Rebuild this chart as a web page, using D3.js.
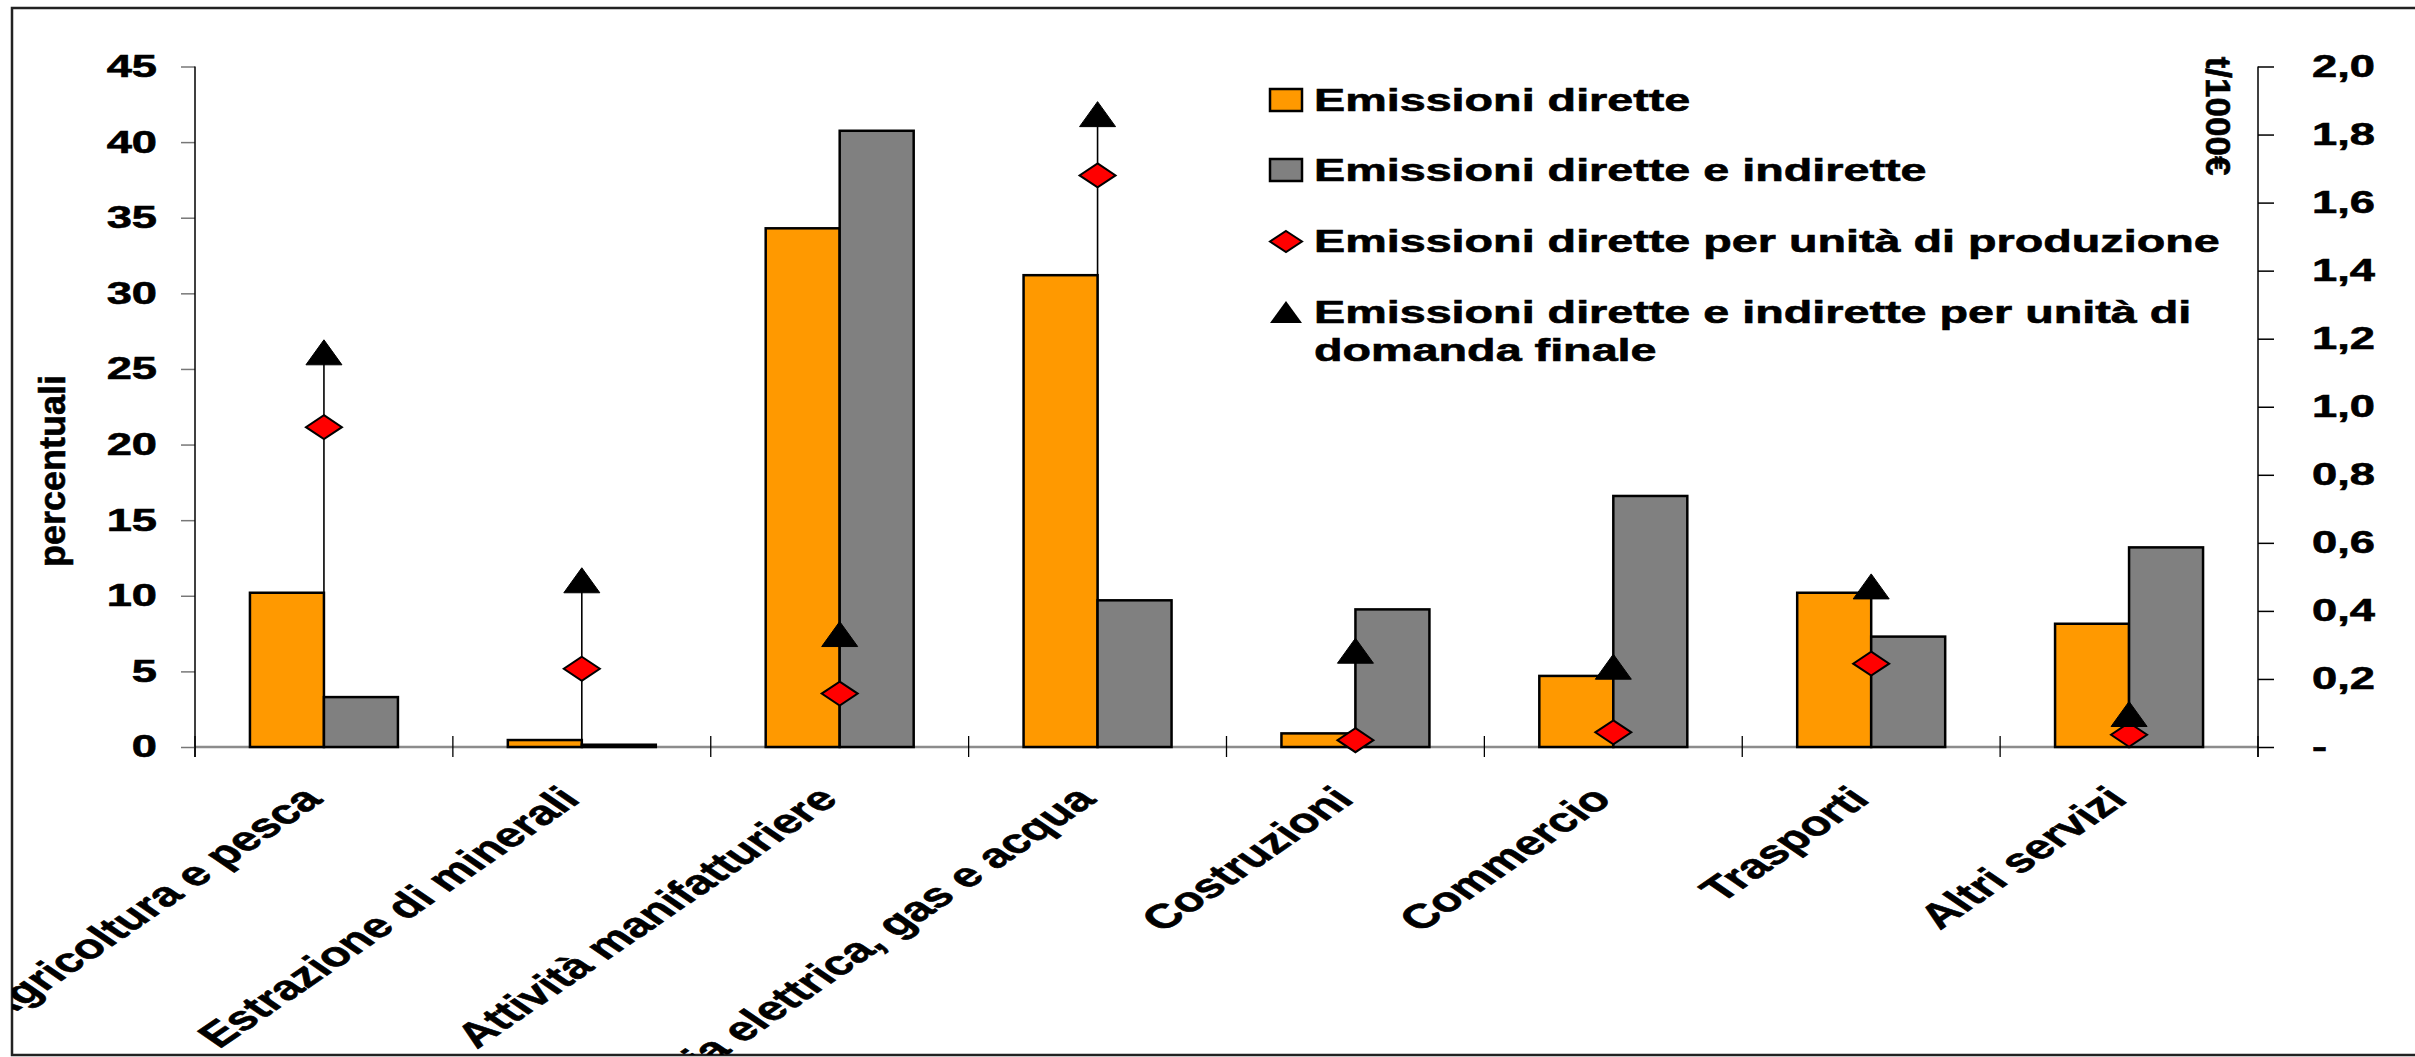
<!DOCTYPE html>
<html>
<head>
<meta charset="utf-8">
<script src="https://cdnjs.cloudflare.com/ajax/libs/d3/7.8.5/d3.min.js"></script>
<style>
  body { margin: 0; background: #fff; }
  text { font-family: "Liberation Sans", Arial, sans-serif; font-weight: bold; fill: #000; stroke: #000; stroke-width: 0.6px; }
</style>
</head>
<body>
<script>
// sectors
const categories = [
    "Agricoltura e pesca",
    "Estrazione di minerali",
    "Attività manifatturiere",
    "Energia elettrica, gas e acqua",
    "Costruzioni",
    "Commercio",
    "Trasporti",
    "Altri servizi"
];
// percentuali (left axis)
const directShare = [10.2, 0.46, 34.3, 31.2, 0.9, 4.7, 10.2, 8.15];
const totalShare = [3.3, 0.15, 40.75, 9.7, 9.1, 16.6, 7.3, 13.2];
// t/1000€ (right axis)
const directPerOutput = [0.94, 0.23, 0.157, 1.68, 0.02, 0.043, 0.245, 0.036];
const totalPerDemand = [1.16, 0.49, 0.332, 1.86, 0.283, 0.236, 0.472, 0.097];

const leftTicks = [0, 5, 10, 15, 20, 25, 30, 35, 40, 45];
const rightTicks = [0, 0.2, 0.4, 0.6, 0.8, 1.0, 1.2, 1.4, 1.6, 1.8, 2.0];
const legendLabels = [
    ["Emissioni dirette"],
    ["Emissioni dirette e indirette"],
    ["Emissioni dirette per unità di produzione"],
    ["Emissioni dirette e indirette per unità di", "domanda finale"]
];

// the original picture is stretched horizontally; horizontal texts follow it
const SX = 1.46;
const W = 2415, H = 1057;

const svg = d3.select("body").append("svg")
    .attr("width", W)
    .attr("height", H);

svg.append("rect").attr("width", W).attr("height", H).attr("fill", "#fff");

svg.append("defs").append("clipPath").attr("id", "frameClip")
    .append("rect").attr("x", 12).attr("y", 8).attr("width", W - 12).attr("height", 1047);

const x = d3.scaleBand().domain(categories).range([195, 2258]).padding(0);
const sub = d3.scaleBand().domain(["direct", "total"]).range([0, x.bandwidth()])
    .paddingInner(0).paddingOuter(0.7425);
const yL = d3.scaleLinear().domain([0, 45]).range([747, 66.5]);
const yR = d3.scaleLinear().domain([0, 2]).range([747, 66.5]);
const barColor = { direct: "#ff9900", total: "#808080" };

function diamond(w, h) {
    const p = d3.path();
    p.moveTo(0, -h / 2); p.lineTo(w / 2, 0); p.lineTo(0, h / 2); p.lineTo(-w / 2, 0); p.closePath();
    return p.toString();
}
function triangle(w, h) {
    const p = d3.path();
    p.moveTo(0, -h / 2); p.lineTo(w / 2, h / 2); p.lineTo(-w / 2, h / 2); p.closePath();
    return p.toString();
}

// frame
svg.append("path")
    .attr("d", `M${W},8H12V1055H${W}`)
    .attr("fill", "none").attr("stroke", "#222").attr("stroke-width", 2.5);

// x axis line
svg.append("line")
    .attr("x1", x.range()[0]).attr("x2", x.range()[1])
    .attr("y1", yL(0)).attr("y2", yL(0))
    .attr("stroke", "#8c8c8c").attr("stroke-width", 2.5);

// category boundary ticks
const bounds = categories.map(c => x(c)).concat([x.range()[1]]);
svg.append("g").selectAll("line").data(bounds).join("line")
    .attr("x1", d => d).attr("x2", d => d)
    .attr("y1", yL(0) - 11).attr("y2", yL(0) + 10)
    .attr("stroke", "#000").attr("stroke-width", 1.3);

// left axis
const gL = svg.append("g").attr("transform", `translate(${x.range()[0]},0)`)
    .call(d3.axisLeft(yL).tickValues(leftTicks).tickSize(14).tickPadding(24).tickSizeOuter(0));
gL.select(".domain").remove();
gL.selectAll(".tick line").attr("stroke", "#777").attr("stroke-width", 1.5);
gL.selectAll(".tick text")
    .attr("font-size", 31)
    .attr("transform", function () { return `translate(${d3.select(this).attr("x")},0) scale(${SX},1)`; })
    .attr("x", 0);
svg.append("line")
    .attr("x1", x.range()[0]).attr("x2", x.range()[0])
    .attr("y1", yL(45)).attr("y2", yL(0) + 10)
    .attr("stroke", "#000").attr("stroke-width", 1.5);

// right axis
const gR = svg.append("g").attr("transform", `translate(${x.range()[1]},0)`)
    .call(d3.axisRight(yR).tickValues(rightTicks).tickSize(16).tickPadding(38).tickSizeOuter(0)
        .tickFormat(v => v === 0 ? "-" : d3.format(".1f")(v).replace(".", ",")));
gR.select(".domain").remove();
gR.selectAll(".tick line").attr("stroke", "#000").attr("stroke-width", 1.5);
gR.selectAll(".tick text")
    .attr("font-size", 31)
    .attr("transform", function () { return `translate(${d3.select(this).attr("x")},0) scale(${SX},1)`; })
    .attr("x", 0);
svg.append("line")
    .attr("x1", x.range()[1]).attr("x2", x.range()[1])
    .attr("y1", yR(2)).attr("y2", yL(0) + 10)
    .attr("stroke", "#000").attr("stroke-width", 1.5);

// axis titles
svg.append("text")
    .attr("transform", "translate(52,471) rotate(-90)")
    .attr("text-anchor", "middle").attr("dominant-baseline", "central")
    .attr("font-size", 36)
    .text("percentuali");
svg.append("text")
    .attr("transform", "translate(2218,116) rotate(90)")
    .attr("text-anchor", "middle").attr("dominant-baseline", "central")
    .attr("font-size", 35)
    .text("t/1000€");

// drop lines (behind bars)
svg.append("g").selectAll("line").data(categories).join("line")
    .attr("x1", c => x(c) + x.bandwidth() / 2).attr("x2", c => x(c) + x.bandwidth() / 2)
    .attr("y1", (c, i) => yR(totalPerDemand[i])).attr("y2", yR(0))
    .attr("stroke", "#000").attr("stroke-width", 1.6);

// bars
const barData = categories.flatMap((c, i) => [
    { c, key: "direct", v: directShare[i] },
    { c, key: "total", v: totalShare[i] }
]);
svg.append("g").selectAll("rect").data(barData).join("rect")
    .attr("x", d => x(d.c) + sub(d.key))
    .attr("y", d => yL(d.v))
    .attr("width", sub.bandwidth())
    .attr("height", d => yL(0) - yL(d.v))
    .attr("fill", d => barColor[d.key])
    .attr("stroke", "#000").attr("stroke-width", 2.5);

// markers
svg.append("g").selectAll("path").data(categories).join("path")
    .attr("transform", (c, i) => `translate(${x(c) + x.bandwidth() / 2},${yR(directPerOutput[i])})`)
    .attr("d", diamond(36, 24))
    .attr("fill", "#ff0000").attr("stroke", "#000").attr("stroke-width", 2);
svg.append("g").selectAll("path").data(categories).join("path")
    .attr("transform", (c, i) => `translate(${x(c) + x.bandwidth() / 2},${yR(totalPerDemand[i])})`)
    .attr("d", triangle(36, 25))
    .attr("fill", "#000").attr("stroke", "#000").attr("stroke-width", 1);

// category labels
svg.append("g").attr("clip-path", "url(#frameClip)")
    .selectAll("g").data(categories).join("g")
    .attr("transform", c => `translate(${x(c) + x.bandwidth() / 2},801) scale(${SX},1) rotate(-45)`)
    .append("text")
    .attr("text-anchor", "end")
    .attr("font-size", 34)
    .text(c => c);

// legend
const rowBase = [111, 181, 252, 323];
const legend = svg.append("g");
legendLabels.forEach((lines, i) => {
    const b = rowBase[i];
    if (i < 2) {
        legend.append("rect")
            .attr("x", 1270).attr("y", b - 22).attr("width", 32).attr("height", 22)
            .attr("fill", i === 0 ? barColor.direct : barColor.total)
            .attr("stroke", "#000").attr("stroke-width", 2.5);
    } else if (i === 2) {
        legend.append("path")
            .attr("transform", `translate(1286,${b - 10.5})`)
            .attr("d", diamond(32, 21))
            .attr("fill", "#ff0000").attr("stroke", "#000").attr("stroke-width", 2);
    } else {
        legend.append("path")
            .attr("transform", `translate(1286,${b - 11})`)
            .attr("d", triangle(32, 22))
            .attr("fill", "#000");
    }
    lines.forEach((t, j) => {
        legend.append("text")
            .attr("transform", `translate(1314,${b + j * 38}) scale(${SX},1)`)
            .attr("font-size", 32)
            .text(t);
    });
});
</script>
</body>
</html>
